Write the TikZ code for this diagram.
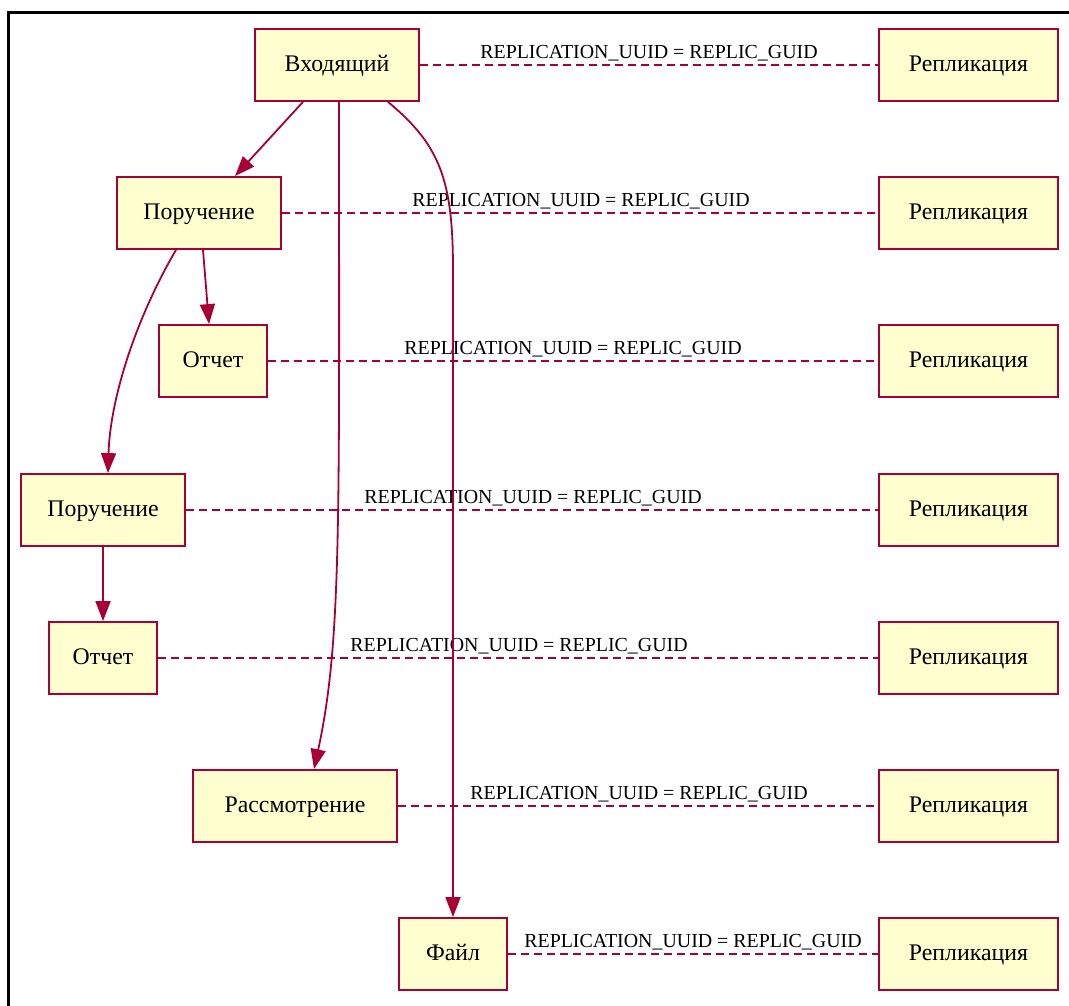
\documentclass[tikz,border=0pt]{standalone}
\usepackage{fontspec}
\setmainfont{Liberation Serif}
\usetikzlibrary{arrows.meta}
\definecolor{edgec}{HTML}{A80036}
\definecolor{boxfill}{HTML}{FEFECE}
\tikzset{
  box/.style={draw=edgec, fill=boxfill, line width=1.8pt, minimum height=72pt, inner sep=0pt,
    text height=16pt, text depth=3pt,
    font=\fontsize{23.8}{26}\selectfont},
  rel/.style={draw=edgec, line width=1.8pt, -{Triangle[length=20pt,width=15pt]}},
  repl/.style={draw=edgec, line width=1.8pt, dash pattern=on 8pt off 5pt},
  lbl/.style={anchor=base, inner sep=0pt, font=\fontsize{19.9}{22}\selectfont}
}
\begin{document}
\begin{tikzpicture}[x=1pt,y=-1pt]
\useasboundingbox (0,0) rectangle (1069,1005);
\clip (0,0) rectangle (1069,1005);
\draw[line width=3pt] (8,1020) -- (8,12) -- (1080,12);

% left-hand nodes
\node[box, minimum width=164pt] (in1) at (337,65) {Входящий};
\node[box, minimum width=164pt] (p1) at (199,213) {Поручение};
\node[box, minimum width=108pt] (o1) at (213,361) {Отчет};
\node[box, minimum width=164pt] (p2) at (103,510) {Поручение};
\node[box, minimum width=108pt] (o2) at (103,658) {Отчет};
\node[box, minimum width=204pt] (rs) at (295,806) {Рассмотрение};
\node[box, minimum width=108pt] (f) at (453,954) {Файл};

% right-hand nodes
\foreach \i/\y in {1/65,2/213,3/361,4/510,5/658,6/806,7/954}{
  \node[box, minimum width=179pt] (r\i) at (968.5,\y) {Репликация};
}

% dashed relations
\draw[repl] (in1) -- (r1);
\draw[repl] (p1) -- (r2);
\draw[repl] (o1) -- (r3);
\draw[repl] (p2) -- (r4);
\draw[repl] (o2) -- (r5);
\draw[repl] (rs) -- (r6);
\draw[repl] (f) -- (r7);

% labels
\node[lbl] (l1) at (649,58) {REPLICATION\_UUID = REPLIC\_GUID};
\node[lbl] (l2) at (581,206) {REPLICATION\_UUID = REPLIC\_GUID};
\node[lbl] (l3) at (573,354) {REPLICATION\_UUID = REPLIC\_GUID};
\node[lbl] (l4) at (533,503) {REPLICATION\_UUID = REPLIC\_GUID};
\node[lbl] (l5) at (519,651) {REPLICATION\_UUID = REPLIC\_GUID};
\node[lbl] (l6) at (639,799) {REPLICATION\_UUID = REPLIC\_GUID};
\node[lbl] (l7) at (693,947) {REPLICATION\_UUID = REPLIC\_GUID};

% arrows
\draw[rel] ([xshift=-34pt]in1.south) -- ([xshift=36pt]p1.north);
\draw[rel] ([xshift=4pt]p1.south) -- ([xshift=-4pt]o1.north);
\draw[rel] ([xshift=-23pt]p1.south) .. controls (135,320) and (110,400) .. ([xshift=5pt]p2.north);
\draw[rel] (p2.south) -- (o2.north);
\draw[rel] ([xshift=2pt]in1.south) .. controls (339,520) and (342,640) .. ([xshift=19pt]rs.north);
\draw[rel] ([xshift=51pt]in1.south) .. controls (440,145) and (453,180) .. (453,270) -- (f.north);
\end{tikzpicture}
\end{document}
